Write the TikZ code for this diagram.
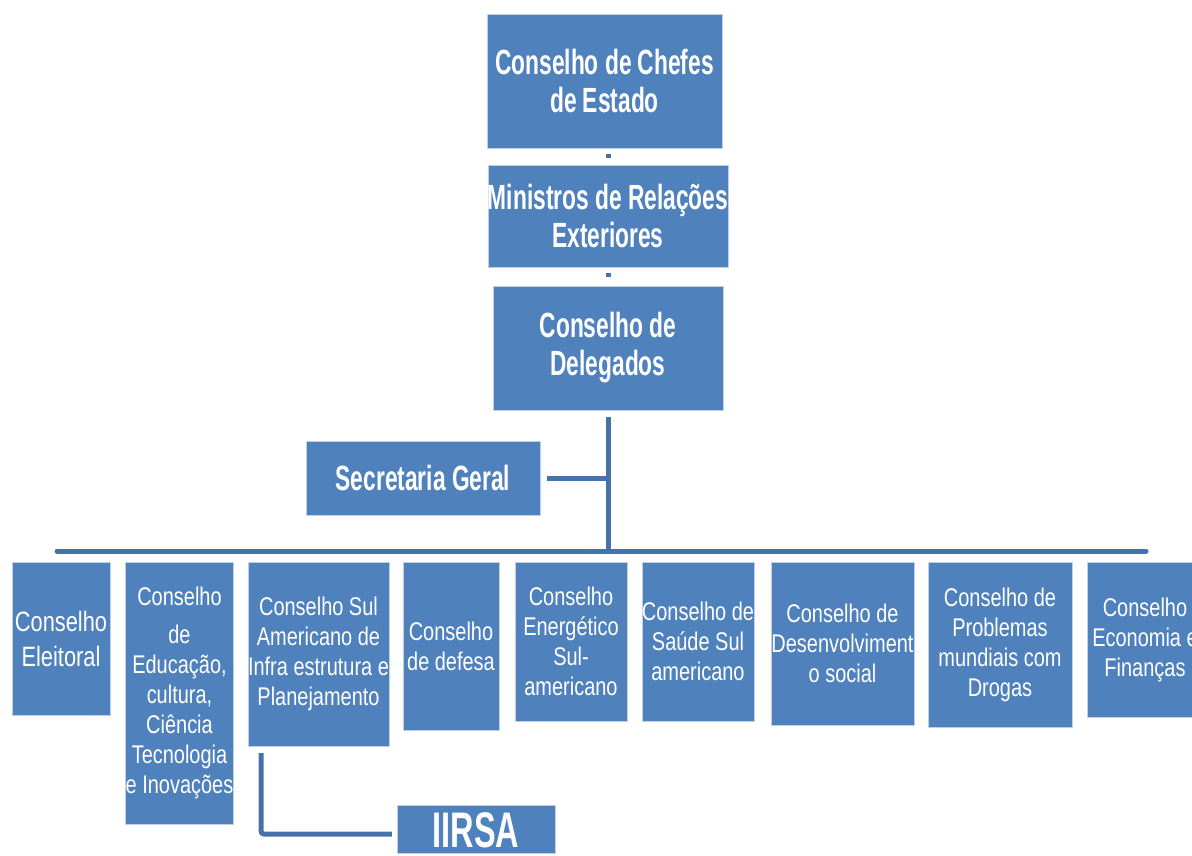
\documentclass[tikz,border=0pt]{standalone}
\usepackage{fontspec}
\setmainfont{Liberation Sans}
\newfontfamily\narrowfont{Liberation Sans}[FakeStretch=0.78]
\newfontfamily\headfont{Liberation Sans}[FakeStretch=0.65]
\usetikzlibrary{positioning}
\definecolor{boxblue}{RGB}{79,129,189}
\definecolor{boxedge}{RGB}{190,208,230}
\definecolor{linkblue}{RGB}{70,114,168}

\begin{document}
\begin{tikzpicture}[x=1pt, y=-1pt,
    headnode/.style={rectangle, fill=boxblue, draw=boxedge, thin, text=white, align=center, inner sep=0pt, font=\headfont\bfseries\fontsize{35}{38}\selectfont},
    councilnode/.style={rectangle, fill=boxblue, draw=boxedge, thin, text=white, align=center, inner sep=0pt, font=\narrowfont\fontsize{25.6}{30}\selectfont},
    link/.style={draw=linkblue, line width=5pt}]

        \useasboundingbox (0,0) rectangle (1192,855);

        \node[headnode, minimum width=235pt, minimum height=134pt] (chefes) at (604.5,81) {Conselho de Chefes\\de Estado};
        \node[headnode, minimum width=238pt, minimum height=102pt] (ministros) at (608,216) {Ministros de Relações\\Exteriores};
        \node[headnode, minimum width=230pt, minimum height=124pt] (delegados) at (608,348) {Conselho de\\Delegados};
        \node[headnode, minimum width=234pt, minimum height=74pt] (secretaria) at (423,478) {Secretaria Geral};

        \node[councilnode, minimum width=98pt, minimum height=153pt, font=\narrowfont\fontsize{28}{35}\selectfont] (eleitoral) at (61,638.5) {Conselho\\Eleitoral};
        \node[councilnode, minimum width=107pt, minimum height=262pt] (educacao) at (179.5,693) {Conselho\\[8pt]de\\Educação,\\cultura,\\Ciência\\Tecnologia\\e Inovações};
        \node[councilnode, minimum width=139pt, minimum height=184pt] (infra) at (318.5,654) {Conselho Sul\\Americano de\\Infra estrutura e\\Planejamento};
        \node[councilnode, minimum width=96pt, minimum height=168pt] (defesa) at (451,646) {Conselho\\de defesa};
        \node[councilnode, minimum width=112pt, minimum height=159pt] (energetico) at (571,641.5) {Conselho\\Energético\\Sul-\\americano};
        \node[councilnode, minimum width=110pt, minimum height=159pt] (saude) at (698,641.5) {Conselho de\\Saúde Sul\\americano};
        \node[councilnode, minimum width=143pt, minimum height=163pt] (desenvolvimento) at (842.5,643.5) {Conselho de\\Desenvolviment\\o social};
        \node[councilnode, minimum width=144pt, minimum height=165pt] (drogas) at (1000,644.5) {Conselho de\\Problemas\\mundiais com\\Drogas};
        \node[councilnode, minimum width=116pt, minimum height=155pt] (economia) at (1145,639.5) {Conselho\\Economia e\\Finanças};

        \node[headnode, minimum width=158pt, minimum height=48pt, text height=36pt, text depth=0pt, font=\headfont\bfseries\fontsize{50}{50}\selectfont] (iirsa) at (476,829) {IIRSA};

        \coordinate (busL) at (57,551);
        \coordinate (busR) at (1146,551);
        \coordinate (junction) at (delegados.south |- busL);

        \draw[link, shorten <=6pt, shorten >=7pt] (ministros.north |- chefes.south) -- (ministros.north);
        \draw[link, shorten <=6pt, shorten >=9pt] (ministros.south) -- (delegados.north);
        \draw[link] ([yshift=-7pt]delegados.south) -- (junction);
        \draw[link] ([xshift=7pt]secretaria.east) -- (secretaria.east -| delegados.south);
        \draw[link, line cap=round] (busL) -- (busR);
        \draw[link, rounded corners=3pt] ([xshift=-57.5pt,yshift=-7pt]infra.south) |- ([xshift=-5pt,yshift=-5pt]iirsa.west);

\end{tikzpicture}
\end{document}
